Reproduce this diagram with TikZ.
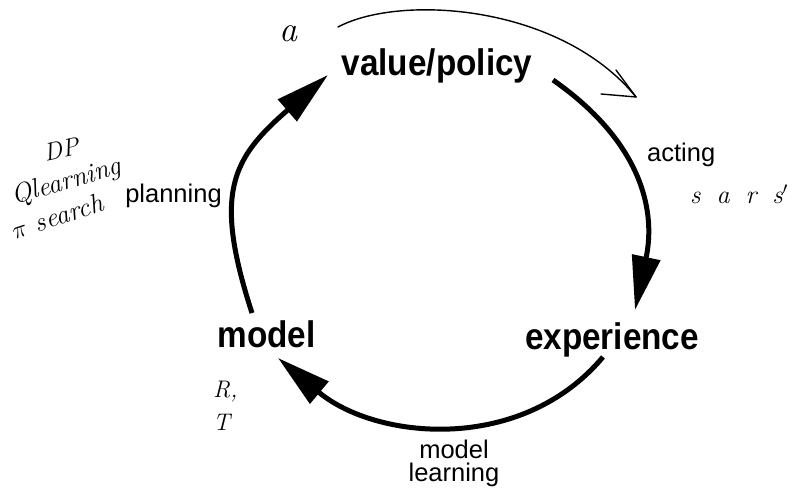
\documentclass[tikz,border=0pt]{standalone}
\usepackage{fontspec}
\usepackage{graphicx}
\newfontfamily\labfont{Liberation Sans}
\newfontfamily\boldlab[FakeStretch=0.9]{Liberation Sans}
\usetikzlibrary{arrows.meta,calc}
\begin{document}
\begin{tikzpicture}[x=1pt,y=1pt,
  bigtext/.style={font=\boldlab\bfseries\fontsize{37}{40}\selectfont, inner sep=0pt, anchor=base},
  smalltext/.style={font=\labfont\fontsize{25.5}{23}\selectfont, inner sep=0pt},
  cyc/.style={line width=5pt, -{Triangle[length=54pt,width=28pt]}},
  hand/.style={inner sep=0pt, font=\itshape\fontsize{27}{29}\selectfont},
  handline/.style={line width=1.4pt, line cap=round, line join=round}]
\useasboundingbox (0,0) rectangle (800,494);
\fill[white] (0,0) rectangle (800,494);

\node[bigtext] (vp) at (437,418) {value/policy};
\node[bigtext] (exp) at (612,144) {experience};
\node[bigtext] (mod) at (266.5,146) {model};
\node[smalltext, anchor=base west] (act) at (647,332) {acting};
\node[smalltext, anchor=base] (plan) at (173.5,291) {planning};
\node[smalltext, anchor=north, align=center] (ml) at (454,54) {model\\learning};

\draw[cyc] ($(vp.base)+(116,-4)$) to[out=-35,in=78,looseness=1.1] ($(exp.base)+(23,40)$);
\draw[cyc] ($(exp.base)+(-9,-7)$) to[out=-130,in=-40] ($(mod.base)+(11.5,-10)$);
\draw[cyc] ($(mod.base)+(-14.5,35)$) to[out=108,in=221,looseness=1.3] ($(vp.base)+(-109,1)$);

% handwritten annotations
\node[hand, font=\itshape\fontsize{36}{38}\selectfont, anchor=base] (ha) at (288,452) {a};
\coordinate (hs) at (338,467);
\coordinate (ht) at (636,397);
\draw[handline] (hs) .. controls (400,500) and (560,490) .. (ht);
\draw[handline] ($(ht)+(-20,27)$) -- (ht) -- ($(ht)+(-35,3)$);

\node[hand, font=\itshape\fontsize{25}{27}\selectfont, anchor=south west] (dp) at (42,332) {\rotatebox{12}{DP}};
\node[hand, anchor=south west] (ql) at (9,284) {\rotatebox{16}{Qlearning}};
\node[hand, anchor=south west] (ps) at (9,254) {\rotatebox{18}{$\pi$ search}};
\node[hand, font=\itshape\fontsize{26}{28}\selectfont, anchor=base west] (sars) at (690,290) {s\hspace{16pt}a\hspace{16pt}r\hspace{16pt}s$'$};
\node[hand, font=\itshape\fontsize{24}{26}\selectfont, anchor=north west, align=left] (rt) at (213,113) {R,\\[7pt]T};
\end{tikzpicture}
\end{document}
